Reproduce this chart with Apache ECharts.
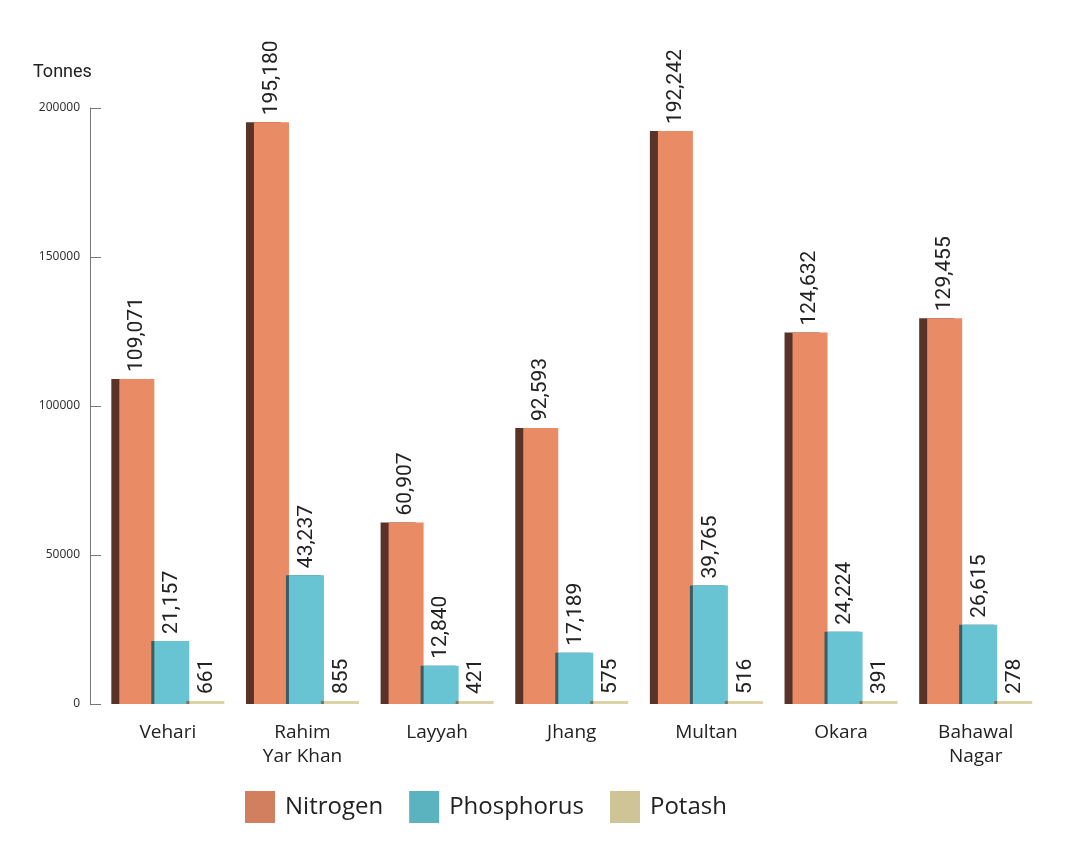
<!DOCTYPE html>
<html>
<head>
<meta charset="utf-8">
<script src="https://cdn.jsdelivr.net/npm/echarts@6/dist/echarts.min.js"></script>
<style>
  html, body { margin: 0; padding: 0; background: #fff; }
  #chart { width: 1081px; height: 864px; }
</style>
</head>
<body>
<div id="chart"></div>
<script>
var districts = ['Vehari', 'Rahim\nYar Khan', 'Layyah', 'Jhang', 'Multan', 'Okara', 'Bahawal\nNagar'];
var nitrogen = [109071, 195180, 60907, 92593, 192242, 124632, 129455];
var phosphorus = [21157, 43237, 12840, 17189, 39765, 24224, 26615];
var potash = [661, 855, 421, 575, 516, 391, 278];
var yTicks = [0, 50000, 100000, 150000, 200000];

var chart = echarts.init(document.getElementById('chart'));

// value label on top of each bar, turned to read upward
function valueLabel(){
    return {
        show: true,
        position: 'top',
        distance: 7,
        rotate: 90,
        align: 'left',
        verticalAlign: 'middle',
        color: '#222',
        fontFamily: 'Roboto',
        fontSize: 21,
        formatter: function(p){ return p.value.toLocaleString('en-US'); }
    };
}

function makeSeries(name, data, front, side, sideWidth){
    return {
        name: name,
        type: 'bar',
        data: data,
        barWidth: 35,
        barGap: '0%',
        barMinHeight: 3,
        itemStyle: {
            color: front,
            shadowColor: side,
            shadowBlur: 0,
            shadowOffsetX: -sideWidth,
            shadowOffsetY: 0
        },
        label: valueLabel()
    };
}

chart.setOption({
    animation: false,
    title: {
        text: 'Tonnes',
        left: 28,
        top: 58,
        textStyle: { fontFamily: 'Roboto', fontSize: 18, fontWeight: 'normal', color: '#222' }
    },
    legend: {
        left: 240,
        top: 786,
        itemWidth: 30,
        itemHeight: 32,
        itemGap: 26,
        icon: 'rect',
        textStyle: { fontFamily: 'Open Sans', fontSize: 24, color: '#222', padding: [0, 0, 0, 5] },
        data: [
            { name: 'Nitrogen', itemStyle: { color: '#D27F5F', shadowBlur: 0, shadowOffsetX: 0 } },
            { name: 'Phosphorus', itemStyle: { color: '#5AB3BF', shadowBlur: 0, shadowOffsetX: 0 } },
            { name: 'Potash', itemStyle: { color: '#CFC495', shadowBlur: 0, shadowOffsetX: 0 } }
        ]
    },
    grid: { left: 104.5, right: 34, top: 108, bottom: 160 },
    xAxis: {
        type: 'category',
        data: districts,
        axisLine: { show: false },
        axisTick: { show: false },
        axisLabel: {
            margin: 17,
            color: '#222',
            fontFamily: 'Open Sans',
            fontSize: 19,
            lineHeight: 24,
            padding: [0, 8, 0, 0]
        }
    },
    yAxis: {
        type: 'value',
        min: yTicks[0],
        max: yTicks[yTicks.length - 1],
        interval: 50000,
        offset: 14.5,
        splitLine: { show: false },
        axisLine: { show: true, lineStyle: { color: '#777', width: 1 } },
        axisTick: { show: true, inside: true, length: 11, lineStyle: { color: '#777' } },
        axisLabel: {
            margin: 10,
            color: '#333',
            fontFamily: 'Noto Sans',
            fontSize: 12,
            formatter: function(v){ return String(v); }
        }
    },
    series: [
        makeSeries('Nitrogen', nitrogen, '#E98B65', '#5A3328', 8),
        makeSeries('Phosphorus', phosphorus, '#68C3D2', '#3B5C62', 3),
        makeSeries('Potash', potash, '#DDD3A8', '#7A7564', 3)
    ]
});
</script>
</body>
</html>
